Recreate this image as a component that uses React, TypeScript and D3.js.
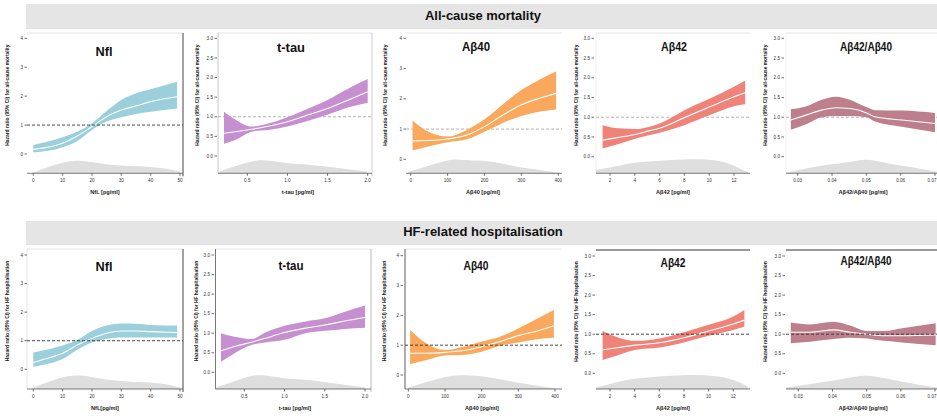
import React, { useEffect } from 'react';
import * as d3 from 'd3';

// ---------- DATA ----------
// All-cause mortality
const nflMortX = [0, 10, 15, 20, 25, 30, 35, 40, 49];
const nflMortHR = [0.16, 0.37, 0.62, 0.95, 1.29, 1.52, 1.66, 1.81, 1.98];
const nflMortLo = [0.05, 0.23, 0.45, 0.83, 1.12, 1.27, 1.38, 1.46, 1.57];
const nflMortHi = [0.31, 0.58, 0.77, 1.06, 1.49, 1.87, 2.1, 2.24, 2.5];
const nflMortDensX = [0, 5.7, 13.6, 19.9, 26.1, 33, 39.8, 45.5, 50];
const nflMortDens = [0.05, 0.51, 1.0, 0.81, 0.58, 0.51, 0.47, 0.35, 0.12];

const tauMortX = [0.21, 0.35, 0.555, 0.76, 1.0, 1.26, 1.5, 1.76, 2.0];
const tauMortHR = [0.58, 0.62, 0.68, 0.76, 0.875, 1.05, 1.21, 1.43, 1.64];
const tauMortLo = [0.31, 0.41, 0.62, 0.66, 0.75, 0.9, 1.05, 1.24, 1.36];
const tauMortHi = [1.13, 0.93, 0.75, 0.83, 0.99, 1.21, 1.43, 1.72, 1.96];
const tauMortDensX = [0.14, 0.347, 0.617, 0.803, 1.01, 1.26, 1.507, 1.756, 1.995];
const tauMortDens = [0.12, 0.51, 1.0, 0.88, 0.7, 0.63, 0.47, 0.28, 0.12];

const ab40MortX = [5, 48, 100, 152, 200, 251, 300, 350, 394];
const ab40MortHR = [0.61, 0.62, 0.67, 0.8, 1.08, 1.47, 1.8, 2.02, 2.18];
const ab40MortLo = [0.29, 0.42, 0.56, 0.66, 0.91, 1.21, 1.43, 1.58, 1.65];
const ab40MortHi = [1.28, 0.91, 0.75, 0.97, 1.32, 1.83, 2.29, 2.64, 2.9];
const ab40MortDensX = [-5, 43, 100, 125, 180, 234, 279, 342, 396];
const ab40MortDens = [0.11, 0.5, 0.95, 1.0, 0.91, 0.8, 0.5, 0.27, 0.05];

const ab42MortX = [1.4, 2.7, 4.1, 5.2, 6.0, 8.0, 10.1, 12.0, 12.9];
const ab42MortHR = [0.42, 0.49, 0.57, 0.66, 0.72, 0.99, 1.27, 1.52, 1.62];
const ab42MortLo = [0.21, 0.32, 0.46, 0.55, 0.61, 0.8, 1.06, 1.28, 1.33];
const ab42MortHi = [0.8, 0.72, 0.7, 0.76, 0.84, 1.18, 1.48, 1.77, 1.93];
const ab42MortDensX = [0.87, 2.67, 4.08, 6.03, 8.0, 10.07, 11.14, 12.2, 13.15];
const ab42MortDens = [0.24, 0.52, 0.79, 0.9, 1.0, 1.0, 0.83, 0.48, 0.05];

const ratioMortX = [0.028, 0.0326, 0.037, 0.0411, 0.0452, 0.0501, 0.0525, 0.0603, 0.07];
const ratioMortHR = [0.93, 1.06, 1.18, 1.24, 1.22, 1.11, 1.01, 0.93, 0.84];
const ratioMortLo = [0.68, 0.83, 1.0, 1.03, 1.03, 1.0, 0.89, 0.76, 0.62];
const ratioMortHi = [1.2, 1.28, 1.44, 1.52, 1.44, 1.25, 1.18, 1.17, 1.11];
const ratioMortDensX = [0.0268, 0.0326, 0.0404, 0.0452, 0.0487, 0.052, 0.0569, 0.0618, 0.0666, 0.0705];
const ratioMortDens = [0.05, 0.36, 0.67, 0.79, 1.0, 0.95, 0.67, 0.48, 0.29, 0.12];

// HF-related hospitalisation
const nflHfX = [0, 5.7, 10, 15, 20, 25, 30, 35, 40, 49];
const nflHfHR = [0.24, 0.41, 0.56, 0.85, 1.08, 1.26, 1.34, 1.34, 1.32, 1.29];
const nflHfLo = [0.09, 0.21, 0.36, 0.68, 0.94, 1.06, 1.11, 1.11, 1.11, 1.11];
const nflHfHi = [0.59, 0.71, 0.83, 1.03, 1.34, 1.53, 1.6, 1.59, 1.55, 1.53];
const nflHfDensX = [0, 5.7, 11.4, 16.5, 20.5, 26.1, 33, 39.8, 45.5, 50];
const nflHfDens = [0.1, 0.56, 0.95, 1.0, 0.82, 0.62, 0.51, 0.49, 0.36, 0.1];

const tauHfX = [0.21, 0.38, 0.59, 0.76, 1.0, 1.26, 1.5, 1.75, 2.0];
const tauHfHR = [0.55, 0.66, 0.77, 0.87, 1.02, 1.13, 1.21, 1.31, 1.4];
const tauHfLo = [0.27, 0.49, 0.7, 0.76, 0.83, 1.0, 1.06, 1.11, 1.14];
const tauHfHi = [1.0, 0.91, 0.85, 1.02, 1.19, 1.3, 1.38, 1.55, 1.71];
const tauHfDensX = [0.144, 0.384, 0.59, 0.757, 0.965, 1.214, 1.5, 1.752, 2.0];
const tauHfDens = [0.1, 0.55, 1.0, 1.0, 0.75, 0.7, 0.5, 0.3, 0.12];

const ab40HfX = [5, 50, 100, 150, 200, 250, 300, 350, 397];
const ab40HfHR = [0.73, 0.73, 0.76, 0.82, 0.95, 1.12, 1.32, 1.47, 1.65];
const ab40HfLo = [0.36, 0.5, 0.65, 0.67, 0.78, 0.98, 1.09, 1.2, 1.25];
const ab40HfHi = [1.51, 1.06, 0.84, 0.95, 1.12, 1.28, 1.56, 1.88, 2.18];
const ab40HfDensX = [0, 50, 114, 168, 214, 277, 332, 400];
const ab40HfDens = [0.1, 0.5, 1.0, 0.98, 0.88, 0.55, 0.3, 0.05];

const ab42HfX = [1.4, 2.7, 4.1, 6.0, 8.0, 10.0, 12.0, 12.9];
const ab42HfHR = [0.6, 0.66, 0.72, 0.78, 0.91, 1.08, 1.26, 1.36];
const ab42HfLo = [0.34, 0.47, 0.6, 0.66, 0.79, 0.96, 1.11, 1.19];
const ab42HfHi = [1.08, 0.91, 0.83, 0.89, 1.05, 1.24, 1.45, 1.62];
const ab42HfDensX = [0.87, 2.62, 4.08, 6.0, 7.97, 10.05, 11.4, 12.48, 13.16];
const ab42HfDens = [0.1, 0.51, 0.77, 0.9, 1.0, 1.0, 0.82, 0.51, 0.18];

const ratioHfX = [0.0278, 0.0334, 0.0403, 0.0452, 0.0501, 0.055, 0.0604, 0.0702];
const ratioHfHR = [1.05, 1.05, 1.11, 1.05, 1.0, 0.96, 0.96, 0.98];
const ratioHfLo = [0.77, 0.81, 0.88, 0.91, 0.89, 0.83, 0.79, 0.72];
const ratioHfHi = [1.3, 1.25, 1.32, 1.22, 1.08, 1.08, 1.15, 1.28];
const ratioHfDensX = [0.0266, 0.0334, 0.0403, 0.0472, 0.0496, 0.055, 0.0599, 0.0668, 0.0707];
const ratioHfDens = [0.1, 0.35, 0.6, 0.9, 1.0, 0.8, 0.55, 0.25, 0.1];

// Tick labels
const nflTicksX = [0, 10, 20, 30, 40, 50];
const tauTicksX = [0.5, 1.0, 1.5, 2.0];
const ab40TicksX = [0, 100, 200, 300, 400];
const ab42TicksX = [2, 4, 6, 8, 10, 12];
const ratioTicksX = [0.03, 0.04, 0.05, 0.06, 0.07];
const yTicksInt = [0, 1, 2, 3, 4];
const yTicksHalf = [0, 0.5, 1, 1.5, 2, 2.5, 3];

const sectionTitles = ['All-cause mortality', 'HF-related hospitalisation'];
const yTitleMort = 'Hazard ratio (95% CI) for all-cause mortality';
const yTitleHf = 'Hazard ratio (95% CI) for HF hospitalisation';

const COL = {
  nfl: '#9bcfdc',
  tau: '#c690d0',
  ab40: '#f9a85e',
  ab42: '#ef837a',
  ratio: '#bd7f8b',
};

// ---------- LAYOUT ----------
type Layout = {
  xDom: [number, number]; xRng: [number, number];
  yDom: [number, number]; yRng: [number, number];
  left: number; right: number; top: number; bottom: number;
  tickX: number; yTitleX: number; xTitle: [number, number]; title: [number, number]; titleW: number;
  ref: 'dark' | 'gray' | 'none';
  fmtY: (v: number) => string; fmtX: (v: number) => string;
  leftLine: string | null; rightLine: string | null; topLine: string | null;
};

const fInt = (v: number) => d3.format('d')(v);
const f1 = (v: number) => d3.format('.1f')(v);
const f2 = (v: number) => d3.format('.2f')(v);

type Panel = {
  title: string; xLabel: string; yLabel: string; color: string;
  xs: number[]; hr: number[]; lo: number[]; hi: number[];
  dx: number[]; dv: number[]; xTicks: number[]; yTicks: number[]; L: Layout;
};

const panels: Panel[] = [
  {
    title: 'Nfl', xLabel: 'NfL [pg/ml]', yLabel: yTitleMort, color: COL.nfl,
    xs: nflMortX, hr: nflMortHR, lo: nflMortLo, hi: nflMortHi, dx: nflMortDensX, dv: nflMortDens,
    xTicks: nflTicksX, yTicks: yTicksInt,
    L: { xDom: [0, 50], xRng: [33.3, 180], yDom: [0, 4], yRng: [154, 38.3], left: 27, right: 183, top: 33, bottom: 173.3,
      tickX: 27, yTitleX: 8, xTitle: [105, 193], title: [104, 53], titleW: 17, ref: 'dark', fmtY: fInt, fmtX: fInt,
      leftLine: null, rightLine: '#444', topLine: '#e4e4e4' },
  },
  {
    title: 't-tau', xLabel: 't-tau [pg/ml]', yLabel: yTitleMort, color: COL.tau,
    xs: tauMortX, hr: tauMortHR, lo: tauMortLo, hi: tauMortHi, dx: tauMortDensX, dv: tauMortDens,
    xTicks: tauTicksX, yTicks: yTicksHalf,
    L: { xDom: [0.5, 2.0], xRng: [247.3, 367.7], yDom: [0, 3], yRng: [156, 38.3], left: 218, right: 372, top: 33, bottom: 173.3,
      tickX: 217, yTitleX: 198, xTitle: [298, 193], title: [291, 49], titleW: 28, ref: 'gray', fmtY: f1, fmtX: f1,
      leftLine: '#bbb', rightLine: '#ccc', topLine: '#e4e4e4' },
  },
  {
    title: 'Aβ40', xLabel: 'Aβ40 [pg/ml]', yLabel: yTitleMort, color: COL.ab40,
    xs: ab40MortX, hr: ab40MortHR, lo: ab40MortLo, hi: ab40MortHi, dx: ab40MortDensX, dv: ab40MortDens,
    xTicks: ab40TicksX, yTicks: yTicksInt,
    L: { xDom: [0, 400], xRng: [410.7, 558.3], yDom: [0, 4], yRng: [159.3, 38.3], left: 406, right: 562, top: 33, bottom: 173.3,
      tickX: 406, yTitleX: 386, xTitle: [483, 193], title: [476, 48], titleW: 28, ref: 'gray', fmtY: fInt, fmtX: fInt,
      leftLine: null, rightLine: null, topLine: '#e4e4e4' },
  },
  {
    title: 'Aβ42', xLabel: 'Aβ42 [pg/ml]', yLabel: yTitleMort, color: COL.ab42,
    xs: ab42MortX, hr: ab42MortHR, lo: ab42MortLo, hi: ab42MortHi, dx: ab42MortDensX, dv: ab42MortDens,
    xTicks: ab42TicksX, yTicks: yTicksHalf,
    L: { xDom: [2, 12], xRng: [610, 734], yDom: [0, 3], yRng: [156.7, 38.3], left: 596, right: 750, top: 33, bottom: 173.3,
      tickX: 594, yTitleX: 577, xTitle: [673, 193], title: [674, 48], titleW: 26, ref: 'gray', fmtY: f1, fmtX: fInt,
      leftLine: '#eee', rightLine: null, topLine: '#e4e4e4' },
  },
  {
    title: 'Aβ42/Aβ40', xLabel: 'Aβ42/Aβ40  [pg/ml]', yLabel: yTitleMort, color: COL.ratio,
    xs: ratioMortX, hr: ratioMortHR, lo: ratioMortLo, hi: ratioMortHi, dx: ratioMortDensX, dv: ratioMortDens,
    xTicks: ratioTicksX, yTicks: yTicksHalf,
    L: { xDom: [0.03, 0.07], xRng: [797.7, 935], yDom: [0, 3], yRng: [156.7, 38.3], left: 786, right: 937, top: 33, bottom: 173.3,
      tickX: 784, yTitleX: 766, xTitle: [863, 193], title: [866, 48], titleW: 52, ref: 'gray', fmtY: f1, fmtX: f2,
      leftLine: '#eee', rightLine: null, topLine: '#e4e4e4' },
  },
  {
    title: 'Nfl', xLabel: 'NfL[pg/ml]', yLabel: yTitleHf, color: COL.nfl,
    xs: nflHfX, hr: nflHfHR, lo: nflHfLo, hi: nflHfHi, dx: nflHfDensX, dv: nflHfDens,
    xTicks: nflTicksX, yTicks: yTicksInt,
    L: { xDom: [0, 50], xRng: [33.3, 180], yDom: [0, 4], yRng: [369.3, 255], left: 27, right: 183, top: 249, bottom: 389,
      tickX: 27, yTitleX: 8, xTitle: [105, 409], title: [104, 268], titleW: 17, ref: 'dark', fmtY: fInt, fmtX: fInt,
      leftLine: '#ddd', rightLine: '#444', topLine: '#e4e4e4' },
  },
  {
    title: 't-tau', xLabel: 't-tau [pg/ml]', yLabel: yTitleHf, color: COL.tau,
    xs: tauHfX, hr: tauHfHR, lo: tauHfLo, hi: tauHfHi, dx: tauHfDensX, dv: tauHfDens,
    xTicks: tauTicksX, yTicks: yTicksHalf,
    L: { xDom: [0.5, 2.0], xRng: [244.3, 365], yDom: [0, 3], yRng: [372.3, 255], left: 215.5, right: 371, top: 249, bottom: 389,
      tickX: 214, yTitleX: 197, xTitle: [295, 409], title: [291, 267], titleW: 25, ref: 'none', fmtY: f1, fmtX: f1,
      leftLine: '#555', rightLine: '#bbb', topLine: '#e4e4e4' },
  },
  {
    title: 'Aβ40', xLabel: 'Aβ40 [pg/ml]', yLabel: yTitleHf, color: COL.ab40,
    xs: ab40HfX, hr: ab40HfHR, lo: ab40HfLo, hi: ab40HfHi, dx: ab40HfDensX, dv: ab40HfDens,
    xTicks: ab40TicksX, yTicks: yTicksInt,
    L: { xDom: [0, 400], xRng: [408.3, 555], yDom: [0, 4], yRng: [375, 255.7], left: 405, right: 562, top: 249, bottom: 389,
      tickX: 403, yTitleX: 385, xTitle: [482, 409], title: [476, 267], titleW: 25, ref: 'dark', fmtY: fInt, fmtX: fInt,
      leftLine: '#333', rightLine: null, topLine: '#e4e4e4' },
  },
  {
    title: 'Aβ42', xLabel: 'Aβ42 [pg/ml]', yLabel: yTitleHf, color: COL.ab42,
    xs: ab42HfX, hr: ab42HfHR, lo: ab42HfLo, hi: ab42HfHi, dx: ab42HfDensX, dv: ab42HfDens,
    xTicks: ab42TicksX, yTicks: yTicksHalf,
    L: { xDom: [2, 12], xRng: [610, 733.3], yDom: [0, 3], yRng: [373.3, 256], left: 596, right: 750, top: 250, bottom: 389,
      tickX: 595, yTitleX: 577, xTitle: [673, 409], title: [673, 264], titleW: 25, ref: 'dark', fmtY: f1, fmtX: fInt,
      leftLine: null, rightLine: null, topLine: '#333' },
  },
  {
    title: 'Aβ42/Aβ40', xLabel: 'Aβ42/Aβ40 [pg/ml]', yLabel: yTitleHf, color: COL.ratio,
    xs: ratioHfX, hr: ratioHfHR, lo: ratioHfLo, hi: ratioHfHi, dx: ratioHfDensX, dv: ratioHfDens,
    xTicks: ratioTicksX, yTicks: yTicksHalf,
    L: { xDom: [0.03, 0.07], xRng: [798.3, 935], yDom: [0, 3], yRng: [373.3, 256], left: 786, right: 937, top: 250, bottom: 389,
      tickX: 785, yTitleX: 766, xTitle: [863, 409], title: [866, 262], titleW: 51, ref: 'dark', fmtY: f1, fmtX: f2,
      leftLine: null, rightLine: null, topLine: '#333' },
  },
];

const FONT = '"Liberation Sans", Arial, sans-serif';

function PanelView({ p, idx }: { p: Panel; idx: number }) {
  const L = p.L;
  const x = d3.scaleLinear().domain(L.xDom).range(L.xRng);
  const y = d3.scaleLinear().domain(L.yDom).range(L.yRng);
  const dy = d3.scaleLinear().domain([0, 1]).range([L.bottom, L.bottom - 14]);
  const rows = p.xs.map((v, i) => ({ x: v, hr: p.hr[i], lo: p.lo[i], hi: p.hi[i] }));
  const drows = p.dx.map((v, i) => ({ x: v, d: p.dv[i] }));
  const band = d3.area<any>().x((d) => x(d.x)).y0((d) => y(d.lo)).y1((d) => y(d.hi)).curve(d3.curveMonotoneX);
  const line = d3.line<any>().x((d) => x(d.x)).y((d) => y(d.hr)).curve(d3.curveMonotoneX);
  const dens = d3.area<any>().x((d) => Math.max(L.left, Math.min(L.right, x(d.x)))).y0(L.bottom).y1((d) => dy(d.d)).curve(d3.curveBasis);
  const refY = y(1);
  const clipId = `clip${idx}`;
  const dashed = L.ref === 'none' ? null : (
    <line x1={L.left} x2={L.right} y1={refY} y2={refY}
      stroke={L.ref === 'dark' ? '#333' : '#aaa'} strokeWidth={0.9} strokeDasharray="3,2" />
  );
  const lastTick = p.xTicks[p.xTicks.length - 1];
  return (
    <g>
      <defs>
        <clipPath id={clipId}><rect x={L.left} y={L.top} width={L.right - L.left} height={L.bottom - L.top} /></clipPath>
      </defs>
      {L.topLine && <line x1={L.left} x2={L.right} y1={L.top} y2={L.top} stroke={L.topLine} strokeWidth={1} />}
      {L.leftLine && <line x1={L.left} x2={L.left} y1={L.top} y2={L.bottom} stroke={L.leftLine} strokeWidth={0.8} />}
      {L.rightLine && <line x1={L.right} x2={L.right} y1={L.top} y2={L.bottom + 3} stroke={L.rightLine} strokeWidth={1} />}
      <g clipPath={`url(#${clipId})`}>
        <path d={dens(drows) || ''} fill="#dedede" />
        {L.ref === 'gray' && dashed}
        <path d={band(rows) || ''} fill={p.color} />
        <path d={line(rows) || ''} fill="none" stroke="#fff" strokeWidth={1.1} />
        {L.ref === 'dark' && dashed}
      </g>
      {/* x axis */}
      <line x1={L.left} x2={L.right} y1={L.bottom} y2={L.bottom} stroke="#444" strokeWidth={0.7} />
      {p.xTicks.map((t) => {
        const tx = x(t);
        const edge = t === lastTick && tx + 6 > 937;
        return (
          <g key={t}>
            <line x1={tx} x2={tx} y1={L.bottom} y2={L.bottom + 2.5} stroke="#333" strokeWidth={0.7} />
            <text x={edge ? 936.5 : tx} y={L.bottom + 9} fontSize={4.6} fill="#333" textAnchor={edge ? 'end' : 'middle'} fontFamily={FONT}>{L.fmtX(t)}</text>
          </g>
        );
      })}
      {/* y axis ticks */}
      {p.yTicks.map((t) => (
        <g key={t}>
          <line x1={L.tickX - 2.5} x2={L.tickX} y1={y(t)} y2={y(t)} stroke="#333" strokeWidth={0.7} />
          <text x={L.tickX - 4} y={y(t)} dy="0.35em" fontSize={4.6} fill="#333" textAnchor="end" fontFamily={FONT}>{L.fmtY(t)}</text>
        </g>
      ))}
      <text x={L.xTitle[0]} y={L.xTitle[1]} fontSize={5.6} fontWeight="bold" fill="#222" textAnchor="middle" dominantBaseline="middle" fontFamily={FONT}>{p.xLabel}</text>
      <text transform={`translate(${L.yTitleX},${(L.top + L.bottom) / 2 - 8}) rotate(-90)`} fontSize={4.9} fontWeight="bold" fill="#222" textAnchor="middle" dominantBaseline="middle" fontFamily={FONT}>{p.yLabel}</text>
      <text x={L.title[0] - L.titleW / 2} y={L.title[1]} fontSize={12.5} fontWeight="bold" fill="#111" textLength={L.titleW} lengthAdjust="spacingAndGlyphs" dominantBaseline="middle" fontFamily={FONT}>{p.title}</text>
    </g>
  );
}

export default function App() {
  useEffect(() => { document.body.style.margin = '0'; }, []);
  return (
    <svg width={937} height={418} viewBox="0 0 937 418" style={{ position: 'fixed', left: 0, top: 0, background: '#fff' }}>
      <rect x={0} y={0} width={937} height={418} fill="#fff" />
      <rect x={26} y={4} width={911} height={25} fill="#e5e5e5" />
      <text x={483 - 58} y={17} fontSize={12.5} fontWeight="bold" textLength={116} lengthAdjust="spacingAndGlyphs" dominantBaseline="middle" fontFamily={FONT} fill="#111">{sectionTitles[0]}</text>
      <rect x={26} y={221} width={911} height={24} fill="#e5e5e5" />
      <text x={483} y={233} fontSize={13} fontWeight="bold" textAnchor="middle" dominantBaseline="middle" fontFamily={FONT} fill="#111">{sectionTitles[1]}</text>
      {panels.map((p, i) => <PanelView key={i} p={p} idx={i} />)}
    </svg>
  );
}
